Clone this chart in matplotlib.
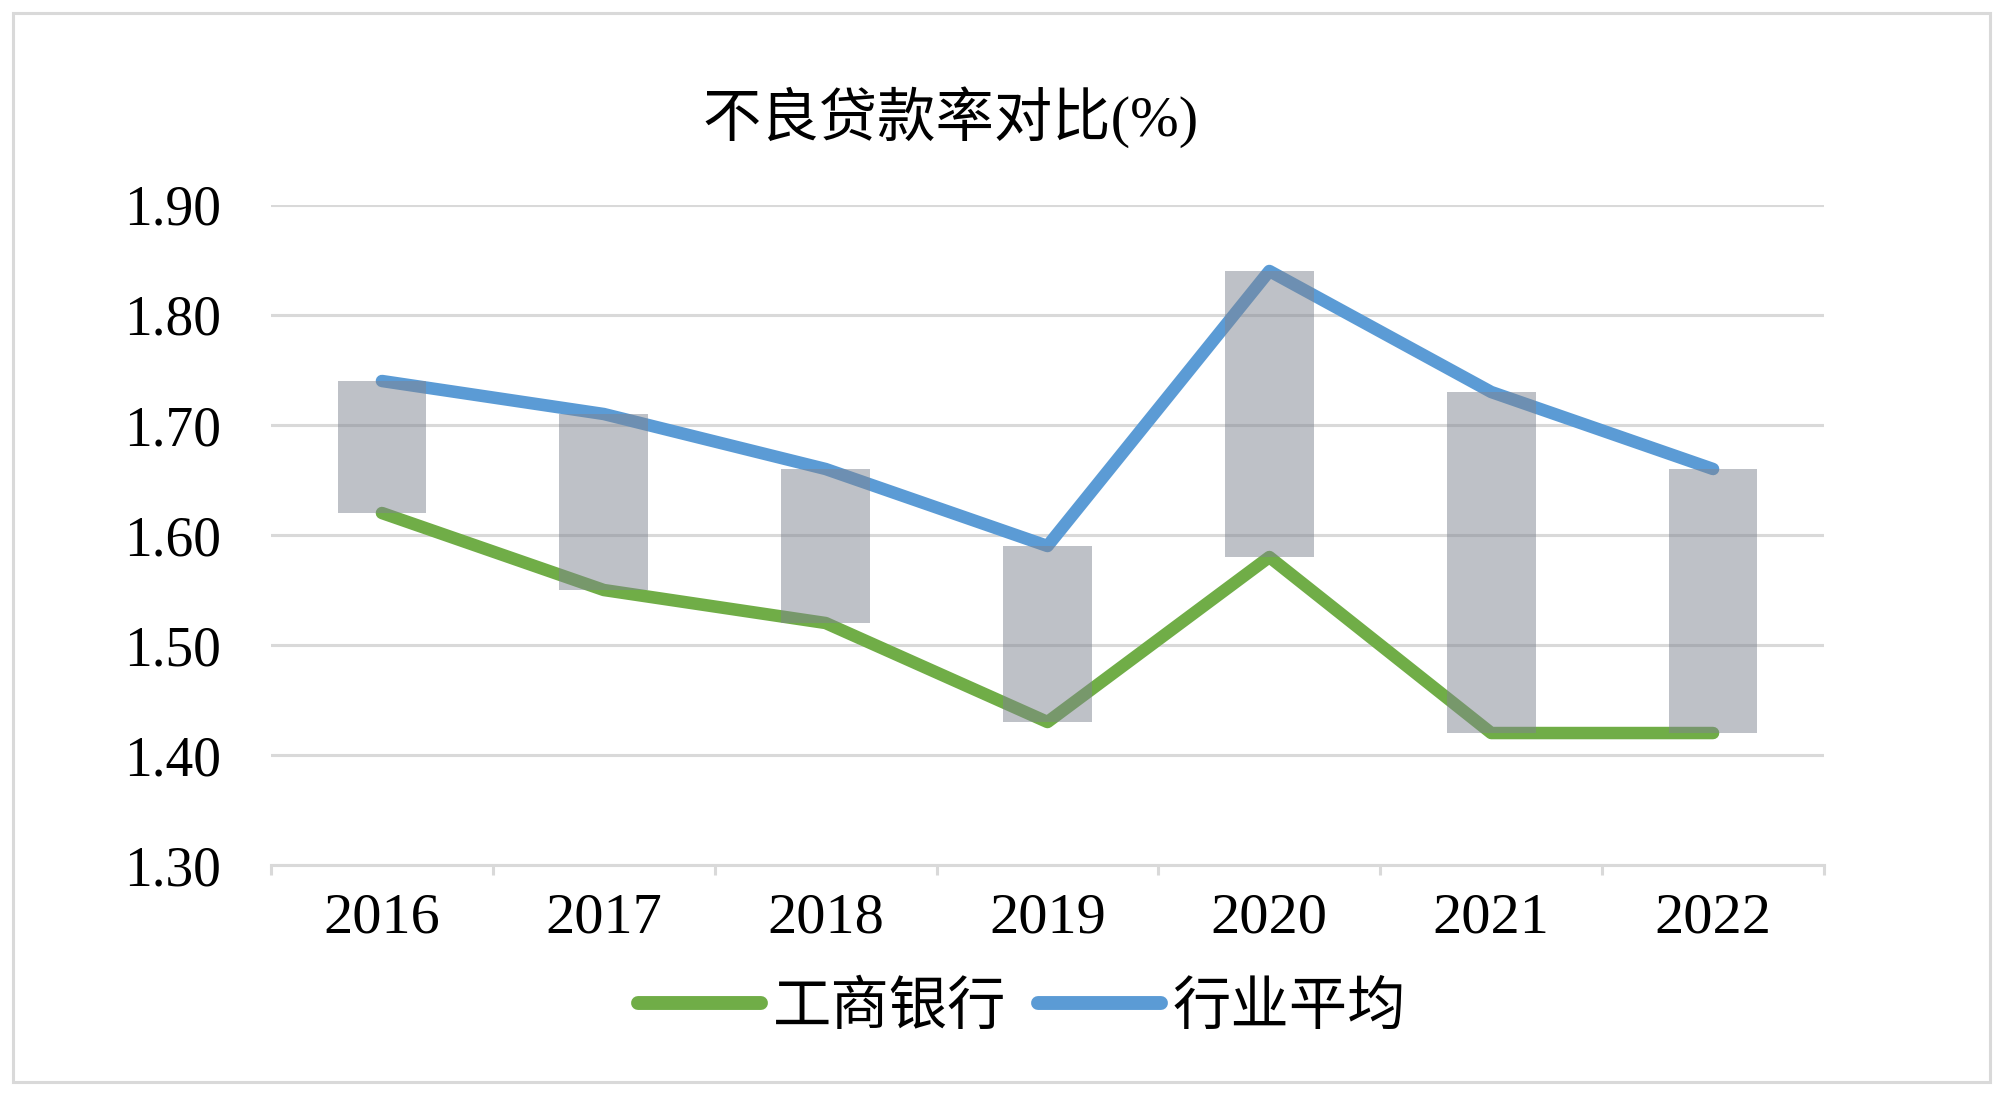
import numpy as np
import matplotlib.pyplot as plt
from matplotlib.patches import Rectangle

# données
years = ['2016', '2017', '2018', '2019', '2020', '2021', '2022']
icbc = [1.62, 1.55, 1.52, 1.43, 1.58, 1.42, 1.42]
industry = [1.74, 1.71, 1.66, 1.59, 1.84, 1.73, 1.66]

serif = ['Liberation Serif', 'Noto Sans CJK SC']
sans = ['Noto Sans CJK SC', 'DejaVu Sans']

fig = plt.figure(figsize=(20, 10.95), dpi=100)
ax = fig.add_axes([0.1355, 0.21, 0.912 - 0.1355, 0.8128 - 0.21])

x = np.arange(len(years))
ax.plot(x, icbc, color='#70AD47', lw=9, solid_capstyle='round', label='工商银行', zorder=3)
ax.plot(x, industry, color='#5B9BD5', lw=9, solid_capstyle='round', label='行业平均', zorder=3)

# barres haut-bas (semi-transparentes, au-dessus des courbes)
low = np.minimum(icbc, industry)
high = np.maximum(icbc, industry)
ax.bar(x, high - low, bottom=low, width=0.4, color='#7f8590', alpha=0.5, zorder=4)

ax.set_xlim(-0.5, len(years) - 0.5)
ax.set_ylim(1.3, 1.9)
ax.set_yticks(np.arange(1.3, 1.91, 0.1))
ax.set_yticklabels(['%.2f' % v for v in np.arange(1.3, 1.91, 0.1)], family=serif, fontsize=40)
ax.set_xticks(x)
ax.set_xticklabels(years, family=serif, fontsize=42)
ax.set_xticks(np.arange(-0.5, len(years), 1), minor=True)

ax.grid(axis='y', color='#d9d9d9', lw=2.2, zorder=0)
ax.set_axisbelow(True)
for s in ['top', 'right', 'left']:
    ax.spines[s].set_visible(False)
ax.spines['bottom'].set_color('#d9d9d9')
ax.spines['bottom'].set_linewidth(2.2)
ax.tick_params(axis='y', length=0, pad=36)
ax.tick_params(axis='x', which='major', length=0, pad=20)
ax.tick_params(axis='x', which='minor', length=7, width=2.2, color='#d9d9d9')

fig.text(0.4755, 0.893, '不良贷款率对比(%)', family=serif, fontsize=42, ha='center', va='center')

leg = fig.legend(loc='center', bbox_to_anchor=(0.511, 0.08), ncol=2, frameon=False,
                 prop={'family': sans, 'size': 42}, handlelength=2.1, handletextpad=0.2,
                 columnspacing=0.55)
for h in leg.get_lines():
    h.set_linewidth(10)

# cadre extérieur
fig.patches.append(Rectangle((0.0065, 0.012), 0.9885, 0.976, transform=fig.transFigure,
                             fill=False, edgecolor='#d9d9d9', lw=2.2))

plt.savefig('out.png', dpi=100)
